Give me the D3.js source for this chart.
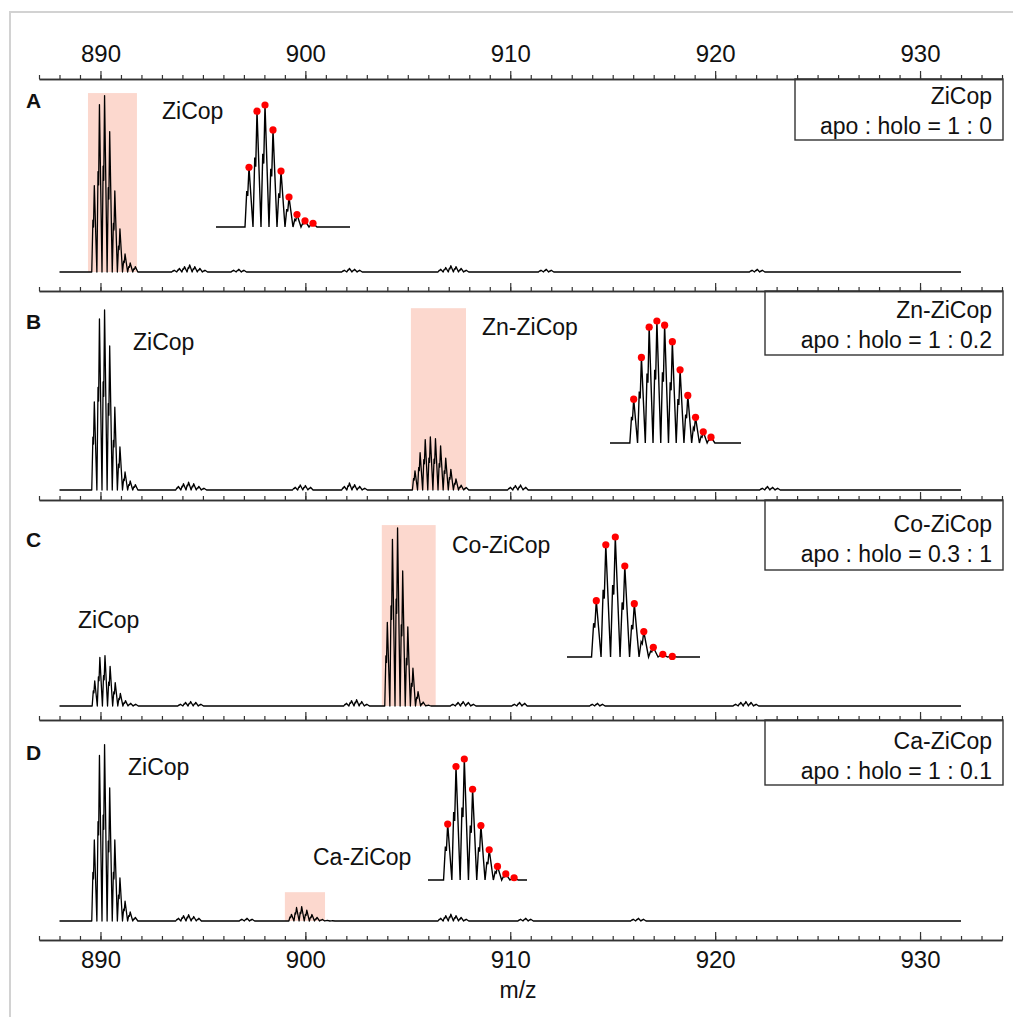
<!DOCTYPE html>
<html>
<head>
<meta charset="utf-8">
<script src="https://cdn.jsdelivr.net/npm/d3@7"></script>
<style>
  body { margin: 0; background: #fff; }
  svg { display: block; font-family: "Liberation Sans", Arial, sans-serif; }
</style>
</head>
<body>
<svg id="chart" width="1013" height="1017"></svg>
<script>
// ---- data ----
var panelIds = ["A", "B", "C", "D"];
var complexNames = ["ZiCop", "Zn-ZiCop", "Co-ZiCop", "Ca-ZiCop"];
var ratioLabels = ["apo : holo = 1 : 0", "apo : holo = 1 : 0.2", "apo : holo = 0.3 : 1", "apo : holo = 1 : 0.1"];

var mzDomain = [887, 934];
var mzSpan = [888, 932];          // where the traces start / stop
var majorTicks = [890, 900, 910, 920, 930];
var isoSpacing = 0.25;             // 4+ ions

// apo (ZiCop) isotope envelopes, relative intensity
var apoMono = [889.70, 889.70, 889.72, 889.70];
var apoHeights = [
    [48, 93, 98, 78, 45, 24, 10, 5, 3],
    [49, 95, 100, 80, 46, 24, 10, 5, 3],
    [14, 27, 28, 22, 13, 7, 3, 1.5, 1],
    [45, 92, 98, 74, 45, 24, 11, 5, 2]
];
// metal-bound (holo) envelopes
var holoMono = [null, 905.35, 904.0, 899.32];
var holoHeights = [
    [],
    [10.6, 20.7, 28, 29.5, 28.5, 24.5, 17.7, 11.5, 6.2, 2.7, 1.4],
    [46.5, 92.6, 99, 75, 44, 21, 8, 2.2, 0.5],
    [3.7, 7.5, 8, 6, 3.6, 2, 0.9, 0.4, 0.15]
];
// small noise bumps [mono, heights]
var noiseA = [[893.6, [1, 2, 3, 4, 3, 2, 1]], [896.5, [1, 1.5, 1]], [901.9, [1, 2, 1.5, 1]], [906.6, [1.5, 2.5, 3.5, 3, 2, 1]], [911.5, [1, 1.5, 1]], [921.8, [1, 1.5, 1]]];
var noiseB = [[893.8, [2, 3.5, 4.4, 3.5, 2, 1]], [899.5, [1.5, 2.8, 2.5, 1.5]], [901.9, [2, 3.9, 3, 2, 1]], [910.0, [1.5, 2.5, 2.8, 1.5]], [922.3, [1, 2, 1.5, 1]]];
var noiseC = [[893.9, [1, 2, 2.5, 2, 1]], [902.0, [1.5, 3, 3.5, 2.5, 1]], [907.2, [1, 2, 2.5, 2, 1]], [910.2, [1, 2, 1.5]], [914.0, [1, 1.5, 1]], [921.0, [1, 2, 2.5, 2, 1]]];
var noiseD = [[893.8, [1.5, 3, 3.5, 2.5, 1.5]], [896.9, [1, 1.5, 1]], [906.6, [1.5, 3, 3.8, 3, 2, 1]], [910.5, [1, 1.5, 1]], [916.0, [1, 1.5, 1]]];
var noise = [noiseA, noiseB, noiseC, noiseD];

// shaded m/z windows [from, to, top intensity]
var highlights = [[889.39, 891.78, 99.4], [905.15, 907.84, 101], [903.73, 906.36, 100.5], [899.0, 900.96, 16]];
// which envelope the inset magnifies
var insetSource = ["apo", "holo", "holo", "holo"];

// ---- layout ----
var axisY = [79, 291, 500, 720, 940];
var baseY = [272, 490, 706, 921];
var unitPx = 1.8;
var legendLeft = [795, 765, 765, 765];
var legendBottom = [140, 355, 570, 785];
var legendLine1 = [104, 318, 532, 749];
var legendLine2 = [134, 348, 562, 779];
var letterY = [108, 329, 547, 760];
var labels = [
    [["ZiCop", 162, 119]],
    [["ZiCop", 133, 350], ["Zn-ZiCop", 482, 335]],
    [["Co-ZiCop", 452, 553], ["ZiCop", 78, 628]],
    [["ZiCop", 128, 775], ["Ca-ZiCop", 313, 865]]
];
var insets = [
    { x0: 216, x1: 350, base: 227, first: 249, step: 8, h: 122 },
    { x0: 610, x1: 741, base: 443, first: 633.7, step: 7.73, h: 122 },
    { x0: 567, x1: 700, base: 657, first: 596.3, step: 9.5, h: 120 },
    { x0: 428, x1: 527, base: 880, first: 447.7, step: 8.3, h: 121 }
];

var svg = d3.select("#chart");
var x = d3.scaleLinear().domain(mzDomain).range([39, 1002]);

// outer frame
svg.append("rect").attr("x", 10).attr("y", 12).attr("width", 1020).attr("height", 1020)
    .attr("fill", "none").attr("stroke", "#d2d2d2").attr("stroke-width", 2);

// peak glyph: shoulder + spike for each isotope
function clusterPoints(mono, heights) {
    var pts = [];
    heights.forEach(function (h, k) {
        var m = mono + k * isoSpacing;
        pts.push([m - 0.5 * isoSpacing, 0], [m - 0.28 * isoSpacing, 0.6 * h],
            [m - 0.16 * isoSpacing, 0.52 * h], [m, h]);
    });
    pts.push([mono + (heights.length - 0.5) * isoSpacing, 0]);
    return pts;
}

var minorTicks = d3.range(mzDomain[0], mzDomain[1] + 1);

function drawAxis(y, orient, withLabels) {
    var g = svg.append("g").attr("transform", "translate(0," + y + ")");
    var minor = (orient === "top" ? d3.axisTop(x).tickSize(4) : d3.axisBottom(x).tickSizeInner(-4))
        .tickValues(minorTicks).tickSizeOuter(0).tickFormat("");
    g.append("g").call(minor);
    var major = orient === "top" ? d3.axisTop(x).tickSize(8) : d3.axisBottom(x).tickSizeInner(-8);
    major.tickValues(majorTicks).tickSizeOuter(0).tickPadding(orient === "top" ? 9 : 11)
        .tickFormat(withLabels ? d3.format("d") : "");
    g.append("g").call(major);
    g.selectAll(".domain").attr("stroke", "#333").attr("stroke-width", 1.6);
    g.selectAll(".tick line").attr("stroke", "#333").attr("stroke-width", 1.2);
    g.selectAll(".tick text").attr("font-size", 24).attr("fill", "#111")
        .attr("font-family", "Liberation Sans, Arial, sans-serif");
}

panelIds.forEach(function (id, i) {
    var y = d3.scaleLinear().domain([0, 100]).range([baseY[i], baseY[i] - 100 * unitPx]);
    var line = d3.line().x(function (d) { return x(d[0]); }).y(function (d) { return y(d[1]); });

    // shaded window
    var hl = highlights[i];
    svg.append("rect").attr("x", x(hl[0])).attr("width", x(hl[1]) - x(hl[0]))
        .attr("y", y(hl[2])).attr("height", y(0) - y(hl[2]))
        .attr("fill", "#fcd8ce");

    // full trace
    var clusters = [[apoMono[i], apoHeights[i]]];
    if (holoMono[i] !== null) clusters.push([holoMono[i], holoHeights[i]]);
    clusters = clusters.concat(noise[i]).sort(function (a, b) { return a[0] - b[0]; });
    var pts = [[mzSpan[0], 0]];
    clusters.forEach(function (c) { pts = pts.concat(clusterPoints(c[0], c[1])); });
    pts.push([mzSpan[1], 0]);
    svg.append("path").attr("d", line(pts)).attr("fill", "none")
        .attr("stroke", "#000").attr("stroke-width", 1.3).attr("stroke-linejoin", "round");

    // inset: magnified envelope with red markers
    var ins = insets[i];
    var src = insetSource[i] === "apo" ? [apoMono[i], apoHeights[i]] : [holoMono[i], holoHeights[i]];
    var xi = d3.scaleLinear().domain([src[0], src[0] + isoSpacing]).range([ins.first, ins.first + ins.step]);
    var yi = d3.scaleLinear().domain([0, d3.max(src[1])]).range([ins.base, ins.base - ins.h]);
    var ipts = [[xi.invert(ins.x0), 0]].concat(clusterPoints(src[0], src[1]), [[xi.invert(ins.x1), 0]]);
    svg.append("path")
        .attr("d", d3.line().x(function (d) { return xi(d[0]); }).y(function (d) { return yi(d[1]); })(ipts))
        .attr("fill", "none").attr("stroke", "#000").attr("stroke-width", 1.4);
    svg.selectAll(null).data(src[1]).enter().append("circle")
        .attr("cx", function (d, k) { return xi(src[0] + k * isoSpacing); })
        .attr("cy", function (d) { return yi(d); })
        .attr("r", 3.6).attr("fill", "#ff0000");

    // legend box
    svg.append("rect").attr("x", legendLeft[i]).attr("y", axisY[i])
        .attr("width", 1003 - legendLeft[i]).attr("height", legendBottom[i] - axisY[i])
        .attr("fill", "#fff").attr("stroke", "#333").attr("stroke-width", 1.4);
    svg.append("text").attr("x", 992).attr("y", legendLine1[i]).attr("text-anchor", "end")
        .attr("font-size", 23).attr("fill", "#111").text(complexNames[i]);
    svg.append("text").attr("x", 992).attr("y", legendLine2[i]).attr("text-anchor", "end")
        .attr("font-size", 23).attr("fill", "#111").text(ratioLabels[i]);

    // panel letter + peak labels
    svg.append("text").attr("x", 26).attr("y", letterY[i]).attr("font-size", 21)
        .attr("font-weight", "bold").attr("fill", "#111").text(id);
    labels[i].forEach(function (l) {
        svg.append("text").attr("x", l[1]).attr("y", l[2]).attr("font-size", 23)
            .attr("fill", "#111").text(l[0]);
    });
});

// axes: labelled top and bottom, plain separators between panels
drawAxis(axisY[0], "top", true);
drawAxis(axisY[1], "top", false);
drawAxis(axisY[2], "top", false);
drawAxis(axisY[3], "top", false);
drawAxis(axisY[4], "bottom", true);

svg.append("text").attr("x", 518).attr("y", 998).attr("text-anchor", "middle")
    .attr("font-size", 23).attr("fill", "#111").text("m/z");
</script>
</body>
</html>
